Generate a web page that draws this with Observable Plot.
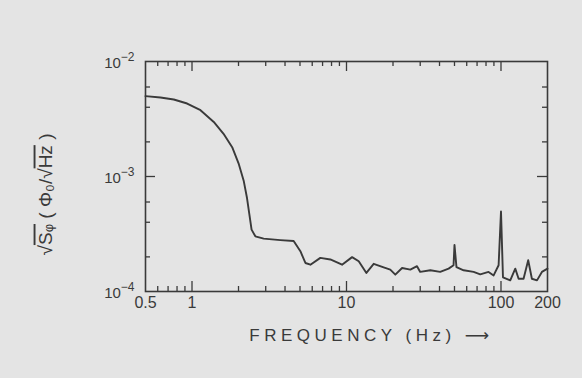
<!DOCTYPE html>
<html><head><meta charset="utf-8">
<script src="https://cdn.jsdelivr.net/npm/d3@7"></script>
<script src="https://cdn.jsdelivr.net/npm/@observablehq/plot@0.6"></script>
<style>
html,body{margin:0;padding:0;background:#e4e4e4;}
#chart{width:582px;height:378px;overflow:hidden;}
</style></head><body><div id="chart"></div>
<script>
// Frequency (Hz) and flux noise sqrt(S_phi) (Phi0/sqrt(Hz))
const frequency = [0.5, 0.625, 0.762, 0.93, 1.135, 1.383, 1.6, 1.82, 2.01, 2.16, 2.27, 2.35, 2.43, 2.57, 2.91,
  3.73, 4.55, 5.03, 5.42, 5.84, 6.77, 7.86, 9.36, 10.87, 12.0, 13.45, 15.0, 17.4, 19.2, 20.7, 22.9, 25.9, 28.6,
  30.0, 34.9, 40.4, 45.8, 49.3, 50, 51.5, 57.3, 66.5, 73.4, 83.1, 89.6, 96.5, 100, 103, 114.8, 123.7, 130,
  140, 150, 158.5, 171, 184, 200];
const noise = [5.0e-3, 4.86e-3, 4.67e-3, 4.31e-3, 3.77e-3, 2.98e-3, 2.35e-3, 1.80e-3, 1.28e-3, 9.2e-4, 6.5e-4, 4.7e-4, 3.45e-4, 3.02e-4, 2.88e-4,
  2.8e-4, 2.75e-4, 2.24e-4, 1.77e-4, 1.71e-4, 1.96e-4, 1.90e-4, 1.71e-4, 1.99e-4, 1.83e-4, 1.45e-4, 1.74e-4, 1.62e-4, 1.55e-4, 1.40e-4, 1.60e-4, 1.55e-4, 1.66e-4,
  1.48e-4, 1.53e-4, 1.48e-4, 1.58e-4, 1.69e-4, 2.54e-4, 1.63e-4, 1.53e-4, 1.48e-4, 1.41e-4, 1.48e-4, 1.38e-4, 1.69e-4, 4.97e-4, 1.33e-4, 1.25e-4, 1.58e-4, 1.29e-4,
  1.29e-4, 1.87e-4, 1.29e-4, 1.25e-4, 1.48e-4, 1.58e-4];

const xTickLabels = [0.5, 1, 10, 100, 200];
const xMajorTicks = [1, 10, 100];
const xMinorTicks = [0.6, 0.7, 0.8, 0.9, 2, 3, 4, 5, 6, 7, 8, 9, 20, 30, 40, 50, 60, 70, 80, 90];
const yTickLabels = [1e-4, 1e-3, 1e-2];
const yTickExponents = ["−4", "−3", "−2"];
const yMajorTicks = [1e-3];
const yMinorTicks = [2e-4, 4e-4, 6e-4, 2e-3, 4e-3, 6e-3];
const xTitle = "FREQUENCY (Hz) ⟶";

const W = 582, H = 378, mL = 145, mR = 35, mT = 61, mB = 87;
const innerH = H - mT - mB, innerW = W - mL - mR;
const majorLen = 10, minorLen = 5;
const ink = "#3a3a3a";
const data = frequency.map((f, i) => ({f, v: noise[i]}));

const tickRules = [];
for (const [ticks, len] of [[xMajorTicks, majorLen], [xMinorTicks, minorLen]]) {
  tickRules.push(Plot.ruleX(ticks, {x: d => d, stroke: ink, strokeWidth: 1.3, insetTop: innerH - len}));
  tickRules.push(Plot.ruleX(ticks, {x: d => d, stroke: ink, strokeWidth: 1.3, insetBottom: innerH - len}));
}
for (const [ticks, len] of [[yMajorTicks, majorLen], [yMinorTicks, minorLen]]) {
  tickRules.push(Plot.ruleY(ticks, {y: d => d, stroke: ink, strokeWidth: 1.3, insetRight: innerW - len}));
  tickRules.push(Plot.ruleY(ticks, {y: d => d, stroke: ink, strokeWidth: 1.3, insetLeft: innerW - len}));
}

const chart = Plot.plot({
  width: W, height: H,
  marginLeft: mL, marginRight: mR, marginTop: mT, marginBottom: mB,
  style: {background: "#e4e4e4", color: ink, fontFamily: "'Liberation Sans', 'DejaVu Sans', sans-serif", fontSize: "16px"},
  x: {type: "log", domain: [0.5, 200], axis: null},
  y: {type: "log", domain: [1e-4, 1e-2], axis: null},
  marks: [
    ...tickRules,
    Plot.frame({stroke: ink, strokeWidth: 1.6}),
    Plot.line(data, {x: "f", y: "v", stroke: ink, strokeWidth: 1.9, strokeLinejoin: "round"}),
    Plot.text(xTickLabels, {x: d => d, text: d => String(d), frameAnchor: "bottom", lineAnchor: "top", dy: 5, fontSize: 16, fill: ink}),
    Plot.text(yTickLabels, {y: d => d, text: (d, i) => "10" + yTickExponents[i], frameAnchor: "left", textAnchor: "end", dx: -11, dy: 2, fontSize: 15, fill: ink}),
    Plot.text([xTitle], {text: d => d, frameAnchor: "bottom", dx: 25, dy: 49, fontSize: 17, fill: ink}),
    Plot.text(["Y"], {text: d => d, frameAnchor: "left", textAnchor: "middle", rotate: -90, dx: -100, dy: 18, fontSize: 19, fill: ink})
  ]
});
document.getElementById("chart").append(chart);

// letter spacing of x title
d3.select(chart).selectAll("text").filter(function() { return this.textContent === xTitle; })
  .attr("letter-spacing", "4.5px");
// y tick labels: superscript exponent
d3.select(chart).selectAll("text").filter(function() { return /^10−\d$/.test(this.textContent); })
  .each(function() {
    const t = d3.select(this);
    const exp = this.textContent.slice(2);
    t.text("10");
    t.append("tspan").attr("dy", "-0.6em").attr("font-size", "12px").text(exp);
  });
// y title with overlined radicands
d3.select(chart).selectAll("text").filter(function() { return this.textContent === "Y"; })
  .each(function() {
    const t = d3.select(this);
    t.text(null);
    t.append("tspan").text("√");
    t.append("tspan").style("text-decoration", "overline").text("Sᵩ");
    t.append("tspan").text(" ( Φ₀/√");
    t.append("tspan").style("text-decoration", "overline").text("Hz");
    t.append("tspan").text(" )");
  });
</script></body></html>
